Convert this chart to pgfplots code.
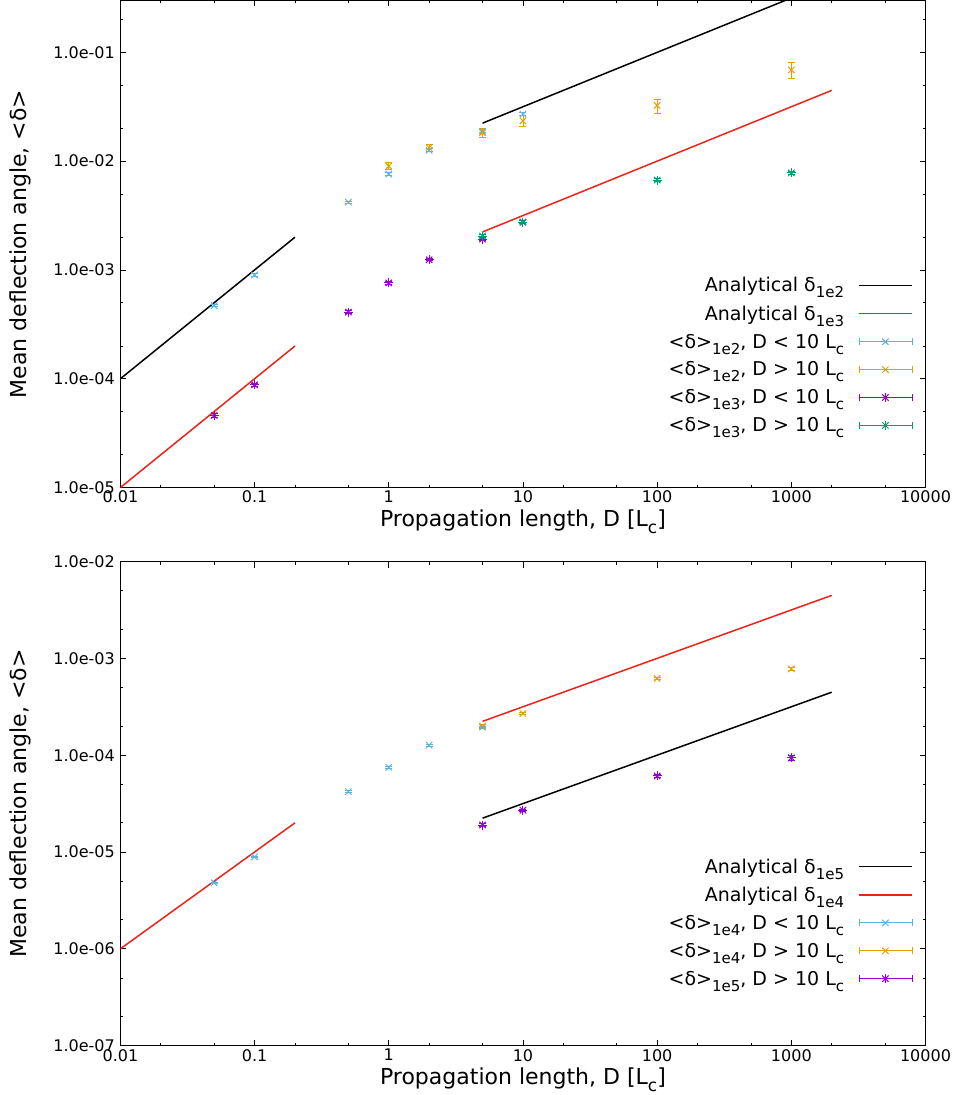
\documentclass[border=0pt]{standalone}
\usepackage{fontspec}
\setmainfont{DejaVu Sans}
\usepackage{pgfplots}
\pgfplotsset{compat=1.18}
\definecolor{gcyan}{RGB}{86,180,233}
\definecolor{gorange}{RGB}{230,159,0}
\definecolor{gpurple}{RGB}{148,0,211}
\definecolor{ggreen}{RGB}{0,158,115}
\definecolor{gred}{RGB}{235,35,25}
\pgfdeclareplotmark{xplus}{\pgfuseplotmark{x}\pgfuseplotmark{+}}
\newcommand{\lsub}[1]{\raisebox{-0.32em}{\fontsize{15}{15}\selectfont #1}}
\newcommand{\xsub}[1]{\raisebox{-0.3em}{\fontsize{17}{17}\selectfont #1}}
\pgfplotsset{
    scale only axis, width=805pt,
    xmin=0.01, xmax=10000,
    axis line style={line width=0.9pt},
    tick align=inside, xtick pos=both, ytick pos=both,
    major tick length=6pt, minor tick length=3pt,
    every tick/.style={black, line width=0.8pt},
    xtick={0.01,0.1,1,10,100,1000,10000},
    xticklabels={0.01,0.1,1,10,100,1000,10000},
    minor xtick={0.02,0.05,0.2,0.5,2,5,20,50,200,500,2000,5000},
    ticklabel style={font=\fontsize{16}{16}\selectfont},
    yticklabel style={xshift=-2pt},
    label style={font=\fontsize{22}{22}\selectfont},
    ylabel style={yshift=10pt, inner ysep=9.3pt},
    xlabel={Propagation length, D [L\xsub{c}]},
    ylabel={Mean deflection angle, <δ>},
    unbounded coords=jump,
    legend cell align=right,
    legend plot pos=right,
    legend style={draw=none, fill=none, anchor=north east,
      font=\fontsize{19}{19}\selectfont, row sep=8.3pt,
      /tikz/every odd column/.append style={column sep=12pt}},
}
\pgfplotsset{
  lineleg/.style={legend image code/.code={\draw[##1] (0pt,0pt)--(53pt,0pt);}},
  errleg/.style={legend image code/.code={%
    \draw[##1,mark=none,line width=0.8pt] (0pt,0pt)--(53pt,0pt) (0pt,-3.5pt)--(0pt,3.5pt) (53pt,-3.5pt)--(53pt,3.5pt);
    \draw[##1] plot coordinates {(26.5pt,0pt)};}},
  pts/.style={only marks, mark size=4.5pt, mark options={line width=1pt},
    error bars/y dir=both, error bars/y explicit,
    error bars/error bar style={line width=0.9pt},
    error bars/error mark options={line width=0.9pt, mark size=3.5pt, rotate=90}},
  aline/.style={line width=1.5pt, mark=none},
}
\begin{document}
\begin{tikzpicture}
\begin{loglogaxis}[name=top, at={(0,0)}, anchor=north west, height=487pt,
  ymin=1e-5, ymax=0.3,
  ytick={1e-5,1e-4,1e-3,1e-2,1e-1},
  yticklabels={1.0e-05,1.0e-04,1.0e-03,1.0e-02,1.0e-01},
  minor ytick={2e-5,5e-5,2e-4,5e-4,2e-3,5e-3,2e-2,5e-2,2e-1},
  legend style={at={(rel axis cs:0.988,0.44)}},
]
\addplot[aline, black, lineleg] coordinates {(0.01,1e-4) (0.2,2e-3) (1,nan) (5,0.02236) (2000,0.4472)};
\addlegendentry{Analytical δ\lsub{1e2}}
\addplot[aline, gred, lineleg] coordinates {(0.01,1e-5) (0.2,2e-4) (1,nan) (5,0.002236) (2000,0.04472)};
\addlegendentry{Analytical δ\lsub{1e3}}
\addplot[pts, gcyan, mark=x, errleg] table[x index=0, y index=1, y error plus index=2, y error minus index=3] {
0.05 4.7e-4 0.1e-4 0.1e-4
0.1  9.0e-4 0.2e-4 0.2e-4
0.5  4.2e-3 0.1e-3 0.1e-3
1    7.6e-3 0.2e-3 0.2e-3
2    1.26e-2 0.4e-3 0.4e-3
5    1.88e-2 0.6e-3 0.6e-3
10   2.70e-2 0.9e-3 0.9e-3
};
\addlegendentry{<δ>\lsub{1e2}, D < 10 L\lsub{c}}
\addplot[pts, gorange, mark=x, errleg] table[x index=0, y index=1, y error plus index=2, y error minus index=3] {
1    9.0e-3 0.8e-3 0.6e-3
2    1.33e-2 1.0e-3 0.9e-3
5    1.83e-2 1.7e-3 1.7e-3
10   2.34e-2 2.8e-3 2.5e-3
100  3.25e-2 4.5e-3 5.0e-3
1000 6.9e-2 1.2e-2 1.1e-2
};
\addlegendentry{<δ>\lsub{1e2}, D > 10 L\lsub{c}}
\addplot[pts, gpurple, mark=xplus, errleg] table[x index=0, y index=1, y error plus index=2, y error minus index=3] {
0.05 4.6e-5 0.15e-5 0.15e-5
0.1  8.8e-5 0.3e-5 0.3e-5
0.5  4.1e-4 0.1e-4 0.1e-4
1    7.6e-4 0.2e-4 0.2e-4
2    1.24e-3 0.3e-4 0.3e-4
5    1.92e-3 0.6e-4 0.6e-4
10   2.75e-3 0.8e-4 0.8e-4
};
\addlegendentry{<δ>\lsub{1e3}, D < 10 L\lsub{c}}
\addplot[pts, ggreen, mark=xplus, errleg] table[x index=0, y index=1, y error plus index=2, y error minus index=3] {
5    2.05e-3 0.6e-4 0.6e-4
10   2.75e-3 0.8e-4 0.8e-4
100  6.7e-3 0.2e-3 0.2e-3
1000 7.8e-3 0.25e-3 0.25e-3
};
\addlegendentry{<δ>\lsub{1e3}, D > 10 L\lsub{c}}
\end{loglogaxis}

\begin{loglogaxis}[name=bot, at={(0,-561pt)}, anchor=north west, height=484pt,
  ymin=1e-7, ymax=1e-2,
  ytick={1e-7,1e-6,1e-5,1e-4,1e-3,1e-2},
  yticklabels={1.0e-07,1.0e-06,1.0e-05,1.0e-04,1.0e-03,1.0e-02},
  minor ytick={2e-7,5e-7,2e-6,5e-6,2e-5,5e-5,2e-4,5e-4,2e-3,5e-3},
  legend style={at={(rel axis cs:0.988,0.395)}},
]
\addplot[aline, black, lineleg] coordinates {(5,2.236e-5) (2000,4.472e-4)};
\addlegendentry{Analytical δ\lsub{1e5}}
\addplot[aline, gred, lineleg] coordinates {(0.01,1e-6) (0.2,2e-5) (1,nan) (5,2.236e-4) (2000,4.472e-3)};
\addlegendentry{Analytical δ\lsub{1e4}}
\addplot[pts, gcyan, mark=x, errleg] table[x index=0, y index=1, y error plus index=2, y error minus index=3] {
0.05 4.8e-6 0.1e-6 0.1e-6
0.1  8.9e-6 0.2e-6 0.2e-6
0.5  4.2e-5 0.1e-5 0.1e-5
1    7.5e-5 0.15e-5 0.15e-5
2    1.27e-4 0.3e-5 0.3e-5
5    1.95e-4 0.5e-5 0.5e-5
};
\addlegendentry{<δ>\lsub{1e4}, D < 10 L\lsub{c}}
\addplot[pts, gorange, mark=x, errleg] table[x index=0, y index=1, y error plus index=2, y error minus index=3] {
5    2.0e-4 0.6e-5 0.6e-5
10   2.7e-4 0.8e-5 0.8e-5
100  6.2e-4 0.2e-4 0.2e-4
1000 7.8e-4 0.35e-4 0.35e-4
};
\addlegendentry{<δ>\lsub{1e4}, D > 10 L\lsub{c}}
\addplot[pts, gpurple, mark=xplus, errleg] table[x index=0, y index=1, y error plus index=2, y error minus index=3] {
5    1.9e-5 0.05e-5 0.05e-5
10   2.7e-5 0.08e-5 0.08e-5
100  6.1e-5 0.2e-5 0.2e-5
1000 9.4e-5 0.6e-5 0.6e-5
};
\addlegendentry{<δ>\lsub{1e5}, D > 10 L\lsub{c}}
\end{loglogaxis}
\end{tikzpicture}
\end{document}
